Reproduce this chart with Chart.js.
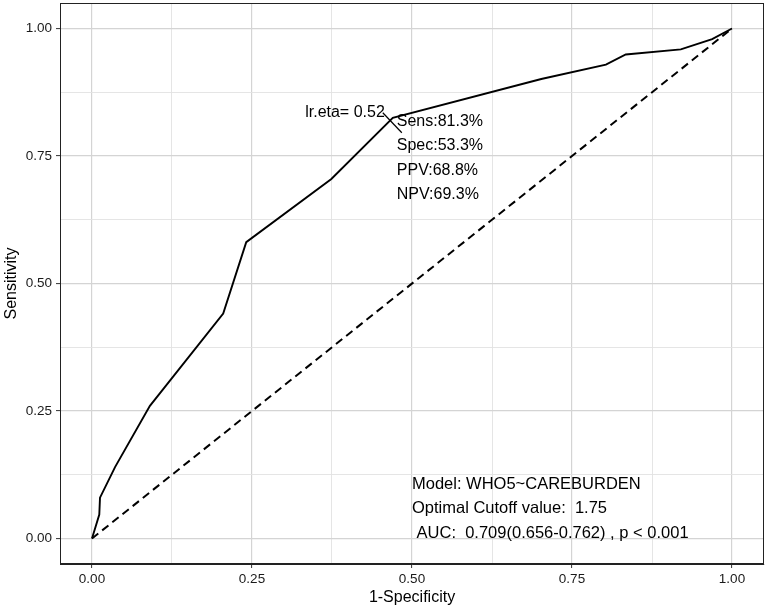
<!DOCTYPE html>
<html>
<head>
<meta charset="utf-8">
<script src="https://cdn.jsdelivr.net/npm/chart.js@4.4.1/dist/chart.umd.min.js"></script>
<style>
html,body{margin:0;padding:0;background:#fff;}
#wrap{width:767px;height:609px;position:relative;}
</style>
</head>
<body>
<div id="wrap"><canvas id="c" width="767" height="609"></canvas></div>
<script>
// ROC curve (1-Specificity vs Sensitivity)
const fpr = [0, 0.0114, 0.0125, 0.036, 0.0905, 0.205, 0.241, 0.374, 0.47, 0.702, 0.803, 0.834, 0.920, 0.969, 1];
const tpr = [0, 0.047, 0.080, 0.140, 0.260, 0.441, 0.581, 0.705, 0.825, 0.901, 0.929, 0.949, 0.959, 0.979, 1];
// reference diagonal
const refX = [0, 1];
const refY = [0, 1];
// axes
const majorTicks = [0, 0.25, 0.5, 0.75, 1];
const minorTicks = [0.125, 0.375, 0.625, 0.875];
const xTitle = "1-Specificity";
const yTitle = "Sensitivity";
// annotations
const bestPoint = [0.47, 0.825];
const bestLabel = "lr.eta= 0.52";
const metricLines = ["Sens:81.3%", "Spec:53.3%", "PPV:68.8%", "NPV:69.3%"];
const modelAnchor = [0.5, 0.106];
const modelLines = ["Model: WHO5~CAREBURDEN", "Optimal Cutoff value:  1.75", " AUC:  0.709(0.656-0.762) , p < 0.001"];

const FONT = "'Liberation Sans', Arial, Helvetica, sans-serif";
const allTicks = majorTicks.concat(minorTicks).sort((a,b)=>a-b);
const isMajor = v => majorTicks.some(m => Math.abs(m - v) < 1e-9);

const rocData = fpr.map((x, i) => ({x: x, y: tpr[i]}));
const refData = refX.map((x, i) => ({x: x, y: refY[i]}));

const gridOpts = {
  color: ctx => (ctx.tick && isMajor(ctx.tick.value)) ? '#d4d4d4' : '#e2e2e2',
  lineWidth: ctx => (ctx.tick && isMajor(ctx.tick.value)) ? 1.2 : 0.9,
  tickColor: ctx => (ctx.tick && isMajor(ctx.tick.value)) ? '#333333' : 'rgba(0,0,0,0)',
  tickWidth: 1,
  tickLength: 4,
  drawTicks: true
};

const annotPlugin = {
  id: 'annot',
  afterDatasetsDraw(chart) {
    const {ctx, scales: {x, y}, chartArea} = chart;
    ctx.save();
    // panel border
    ctx.strokeStyle = '#222';
    ctx.lineWidth = 1;
    ctx.strokeRect(chartArea.left + 0.5, chartArea.top + 0.5, chartArea.right - chartArea.left - 1, chartArea.bottom - chartArea.top - 1);

    const px = x.getPixelForValue(bestPoint[0]);
    const py = y.getPixelForValue(bestPoint[1]);
    ctx.fillStyle = '#000';
    ctx.font = '16px ' + FONT;
    ctx.textBaseline = 'middle';
    // best point label
    ctx.textAlign = 'right';
    ctx.fillText(bestLabel, px - 8, py - 5);
    ctx.strokeStyle = '#000';
    ctx.lineWidth = 1.2;
    ctx.beginPath();
    ctx.moveTo(px - 10, py - 5);
    ctx.lineTo(px + 9, py + 15);
    ctx.stroke();
    // metrics
    ctx.textAlign = 'left';
    metricLines.forEach((t, i) => ctx.fillText(t, px + 4, py + 4 + i * 24.3));
    // model text
    ctx.font = '16.5px ' + FONT;
    const mx = x.getPixelForValue(modelAnchor[0]);
    const my = y.getPixelForValue(modelAnchor[1]);
    modelLines.forEach((t, i) => ctx.fillText(t, mx, my + i * 24.5));
    ctx.restore();
  }
};

new Chart(document.getElementById('c'), {
  type: 'scatter',
  data: {
    datasets: [
      {data: rocData, showLine: true, borderColor: '#000', borderWidth: 1.9, pointRadius: 0, tension: 0, fill: false},
      {data: refData, showLine: true, borderColor: '#000', borderWidth: 2, borderDash: [8, 5], pointRadius: 0, fill: false}
    ]
  },
  options: {
    responsive: false,
    animation: false,
    devicePixelRatio: 1,
    layout: {padding: {top: 3, right: 3, left: 0, bottom: 0}},
    plugins: {legend: {display: false}, tooltip: {enabled: false}},
    scales: {
      x: {
        type: 'linear', min: -0.05, max: 1.05,
        afterBuildTicks: s => { s.ticks = allTicks.map(v => ({value: v})); },
        afterFit: s => { s.height = 45; s.paddingLeft = 0; s.paddingRight = 0; },
        ticks: {autoSkip: false, maxRotation: 0, padding: 3, color: '#1a1a1a', font: {family: FONT, size: 13.5},
                callback: v => isMajor(v) ? v.toFixed(2) : ''},
        grid: gridOpts,
        border: {display: true, color: '#222', width: 1},
        title: {display: true, text: xTitle, color: '#000', font: {family: FONT, size: 16}, padding: {top: 0, bottom: 2}}
      },
      y: {
        type: 'linear', min: -0.05, max: 1.05,
        afterBuildTicks: s => { s.ticks = allTicks.map(v => ({value: v})); },
        afterFit: s => { s.width = 60; s.paddingTop = 0; s.paddingBottom = 0; },
        ticks: {autoSkip: false, padding: 4, color: '#1a1a1a', font: {family: FONT, size: 13.5},
                callback: v => isMajor(v) ? v.toFixed(2) : ''},
        grid: gridOpts,
        border: {display: true, color: '#222', width: 1},
        title: {display: true, text: yTitle, color: '#000', font: {family: FONT, size: 16}, padding: {top: 2, bottom: 0}}
      }
    }
  },
  plugins: [annotPlugin]
});
</script>
</body>
</html>
